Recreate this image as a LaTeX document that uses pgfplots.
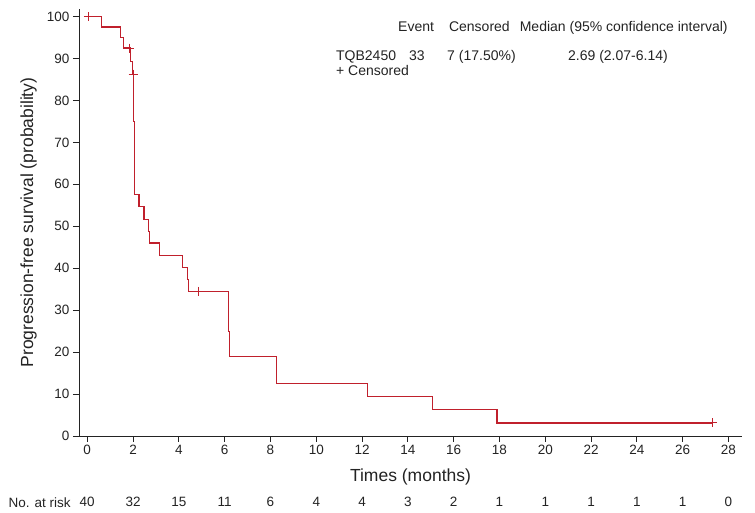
\documentclass[border=0pt]{standalone}
\usepackage{fontspec}
\setmainfont{Liberation Sans}
\usepackage{pgfplots}
\pgfplotsset{compat=1.18}
\definecolor{kmred}{RGB}{192,32,44}
\definecolor{axgray}{RGB}{35,35,35}
\begin{document}
\begin{tikzpicture}
\begin{axis}[
  name=ax,
  scale only axis, width=663pt, height=427pt,
  xmin=-0.36, xmax=28.59, ymin=0, ymax=101.8,
  axis lines=left,
  axis line style={-, axgray, line width=0.9pt},
  xtick={0,2,...,28}, ytick={0,10,...,100},
  tick align=outside, major tick length=6pt,
  tick style={axgray, line width=0.9pt},
  ticklabel style={font=\fontsize{13.5}{16}\selectfont, text=axgray},
  /pgf/number format/assume math mode=true,
  xlabel={Times (months)},
  ylabel={Progression-free survival (probability)},
  xlabel style={font=\fontsize{17.5}{20}\selectfont, text=axgray, at={(axis description cs:0.5,-0.095)}, anchor=center},
  ylabel style={font=\fontsize{17.5}{20}\selectfont, text=axgray, at={(axis description cs:-0.076,0.5)}, anchor=center},
  clip=false,
]
\addplot[const plot, kmred, line width=1.1pt] coordinates {
(0,100) (0.61,97.5) (1.47,95.0) (1.60,92.5) (1.90,89.2) (1.97,86.3)
(2.03,74.9) (2.05,63.2) (2.07,57.6) (2.26,54.7) (2.48,51.7) (2.66,48.8)
(2.71,46.0) (3.14,43.1) (4.17,40.2) (4.38,37.4) (4.43,34.5) (6.16,31.4)
(6.18,25.0) (6.20,18.9) (8.28,12.6) (12.23,9.4) (15.09,6.3) (17.89,3.1) (27.3,3.1)};
\addplot[only marks, mark=+, mark size=4.5pt, kmred, mark options={line width=1pt}] coordinates {
(0.05,100) (1.86,92.5) (2.0,86.3) (4.85,34.5) (27.3,3.1)};
% legend block
\begin{scope}[every node/.style={font=\fontsize{14}{16}\selectfont, text=axgray, anchor=base west, inner sep=0pt}]
\node at (axis cs:13.57,96.4) {Event};
\node at (axis cs:15.79,96.4) {Censored};
\node at (axis cs:18.88,96.4) {Median (95\% confidence interval)};
\node at (axis cs:10.86,89.6) {TQB2450};
\node at (axis cs:14.05,89.6) {33};
\node at (axis cs:15.71,89.6) {7 (17.50\%)};
\node at (axis cs:20.99,89.6) {2.69 (2.07-6.14)};
\node at (axis cs:10.86,85.9) {+ Censored};
\end{scope}
% number at risk
\begin{scope}[every node/.style={font=\fontsize{13.5}{16}\selectfont, text=axgray, inner sep=0pt}]
\node[anchor=east] at (axis cs:-0.72,-15.8) {No. at risk};
\node at (axis cs:0,-15.8) {40};
\node at (axis cs:2,-15.8) {32};
\node at (axis cs:4,-15.8) {15};
\node at (axis cs:6,-15.8) {11};
\node at (axis cs:8,-15.8) {6};
\node at (axis cs:10,-15.8) {4};
\node at (axis cs:12,-15.8) {4};
\node at (axis cs:14,-15.8) {3};
\node at (axis cs:16,-15.8) {2};
\node at (axis cs:18,-15.8) {1};
\node at (axis cs:20,-15.8) {1};
\node at (axis cs:22,-15.8) {1};
\node at (axis cs:24,-15.8) {1};
\node at (axis cs:26,-15.8) {1};
\node at (axis cs:28,-15.8) {0};
\end{scope}
\end{axis}
\pgfresetboundingbox
\path[use as bounding box] ([shift={(-79pt,-77pt)}]ax.south west) rectangle ([shift={(13pt,9pt)}]ax.north east);
\end{tikzpicture}
\end{document}
